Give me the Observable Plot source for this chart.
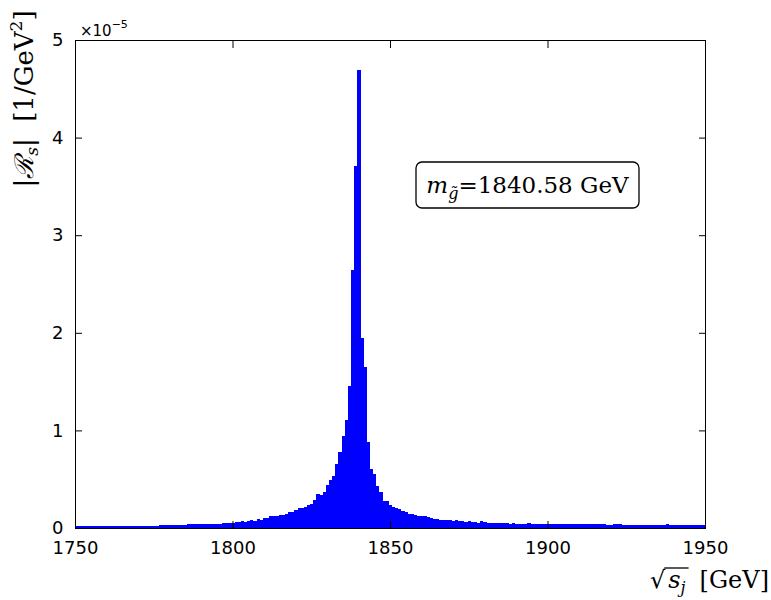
<!DOCTYPE html>
<html>
<head>
<meta charset="utf-8">
<script src="https://cdn.jsdelivr.net/npm/d3@7"></script>
<script src="https://cdn.jsdelivr.net/npm/@observablehq/plot@0.6"></script>
<style>
  body { margin: 0; background: #fff; }
  #chart { position: relative; width: 771px; height: 600px; }
</style>
</head>
<body>
<div id="chart"></div>
<script>
// Histogram of |R_s| (in units of 1e-5 1/GeV^2) vs sqrt(s_j) [GeV], 1 GeV bins
const binWidth = 1;
const firstBinStart = 1749.65;
const values = [
  0.02, 0.02, 0.02, 0.02, 0.02, 0.02, 0.02, 0.02, 0.02, 0.02,
  0.02, 0.02, 0.02, 0.025, 0.025, 0.025, 0.025, 0.025, 0.025, 0.025,
  0.025, 0.025, 0.025, 0.025, 0.025, 0.025, 0.025, 0.032, 0.032, 0.032,
  0.032, 0.032, 0.032, 0.032, 0.032, 0.032, 0.036, 0.036, 0.036, 0.036,
  0.036, 0.044, 0.036, 0.044, 0.044, 0.044, 0.044, 0.054, 0.054, 0.054,
  0.054, 0.064, 0.064, 0.074, 0.064, 0.074, 0.085, 0.074, 0.095, 0.085,
  0.105, 0.105, 0.125, 0.125, 0.125, 0.136, 0.136, 0.146, 0.16, 0.16,
  0.18, 0.21, 0.20, 0.22, 0.24, 0.25, 0.29, 0.35, 0.34, 0.37,
  0.44, 0.49, 0.53, 0.66, 0.78, 0.94, 1.11, 1.45, 2.64, 3.71,
  4.69, 1.95, 1.65, 0.88, 0.60, 0.55, 0.43, 0.37, 0.28, 0.28,
  0.24, 0.22, 0.21, 0.19, 0.17, 0.16, 0.146, 0.146, 0.13, 0.125,
  0.125, 0.125, 0.115, 0.105, 0.095, 0.095, 0.085, 0.085, 0.085, 0.085,
  0.075, 0.085, 0.075, 0.075, 0.064, 0.075, 0.064, 0.064, 0.054, 0.075,
  0.064, 0.054, 0.054, 0.054, 0.054, 0.054, 0.054, 0.054, 0.044, 0.054,
  0.044, 0.044, 0.044, 0.044, 0.054, 0.044, 0.044, 0.044, 0.044, 0.044,
  0.036, 0.036, 0.044, 0.044, 0.044, 0.036, 0.036, 0.036, 0.036, 0.036,
  0.036, 0.036, 0.036, 0.036, 0.036, 0.036, 0.036, 0.036, 0.036, 0.03,
  0.03, 0.036, 0.036, 0.036, 0.03, 0.03, 0.03, 0.03, 0.03, 0.03,
  0.03, 0.027, 0.027, 0.027, 0.027, 0.027, 0.027, 0.027, 0.036, 0.027,
  0.027, 0.027, 0.027, 0.027, 0.027, 0.027, 0.027, 0.027, 0.027, 0.027,
  0.027
];
const xTicks = [1750, 1800, 1850, 1900, 1950];
const yTicks = [0, 1, 2, 3, 4, 5];
const xDomain = [1750, 1950];
const yDomain = [0, 5];
const massText = "=1840.58 GeV";

const bins = values.map((v, i) => ({
  x1: firstBinStart + i * binWidth,
  x2: firstBinStart + (i + 1) * binWidth,
  y: v
}));

const plot = Plot.plot({
  width: 771,
  height: 600,
  marginLeft: 75,
  marginRight: 66,
  marginTop: 40,
  marginBottom: 72,
  style: { fontFamily: "DejaVu Sans", fontSize: "18px", color: "black", background: "white" },
  x: { domain: xDomain },
  y: { domain: yDomain },
  marks: [
    Plot.rectY(bins, { x1: "x1", x2: "x2", y: "y", fill: "#0000ff", shapeRendering: "crispEdges", clip: true }),
    Plot.frame({ stroke: "black", strokeWidth: 1 }),
    Plot.axisX({ ticks: xTicks, tickSize: 0, tickPadding: 13, tickFormat: "d", label: null }),
    Plot.axisX({ ticks: xTicks, tickSize: -7, text: null, label: null }),
    Plot.axisX({ anchor: "top", ticks: xTicks, tickSize: -7, text: null, label: null }),
    Plot.axisY({ ticks: yTicks, tickSize: 0, tickPadding: 12, tickFormat: "d", label: null }),
    Plot.axisY({ ticks: yTicks, tickSize: -7, text: null, label: null }),
    Plot.axisY({ anchor: "right", ticks: yTicks, tickSize: -7, text: null, label: null })
  ]
});

document.getElementById("chart").appendChild(plot);
const svg = d3.select(plot);

// offset text ×10^-5
const off = svg.append("text").attr("x", 80).attr("y", 36).attr("text-anchor", "start")
  .style("font-family", "DejaVu Sans").style("font-size", "15px").attr("fill", "black");
off.append("tspan").text("×10");
off.append("tspan").attr("dy", -8).style("font-size", "11px").text("−5");

// y label
const yl = svg.append("text").attr("transform", "translate(33,99) rotate(-90)")
  .attr("text-anchor", "middle").style("font-family", "DejaVu Serif").style("font-size", "26px").attr("fill", "black");
yl.append("tspan").text("|");
yl.append("tspan").style("font-style", "italic").text("ℛ");
yl.append("tspan").attr("dy", 5).style("font-size", "17px").style("font-style", "italic").text("s");
yl.append("tspan").attr("dy", -5).text("|  [1/GeV");
yl.append("tspan").attr("dy", -11).style("font-size", "17px").text("2");
yl.append("tspan").attr("dy", 11).text("]");

// x label
const xl = svg.append("text").attr("x", 769).attr("y", 588).attr("text-anchor", "end")
  .style("font-family", "DejaVu Serif").style("font-size", "24px").attr("fill", "black");
xl.append("tspan").text("√");
xl.append("tspan").attr("dx", 3).style("font-style", "italic").text("s");
xl.append("tspan").attr("dy", 5).style("font-size", "16px").style("font-style", "italic").text("j");
xl.append("tspan").attr("dy", -5).attr("dx", 14).text("[GeV]");
// vinculum of the square root
const xlNode = xl.node();
const radBox = xlNode.getExtentOfChar(0);
const jBox = xlNode.getExtentOfChar(2);
svg.append("line")
  .attr("x1", radBox.x + radBox.width - 1).attr("x2", jBox.x + jBox.width + 3)
  .attr("y1", radBox.y + 2).attr("y2", radBox.y + 2)
  .attr("stroke", "black").attr("stroke-width", 1.3);

// annotation box
svg.append("rect").attr("x", 416).attr("y", 162).attr("width", 223).attr("height", 46)
  .attr("rx", 6).attr("fill", "white").attr("stroke", "black").attr("stroke-width", 1.3);
const bt = svg.append("text").attr("x", 527.5).attr("y", 193).attr("text-anchor", "middle")
  .style("font-family", "DejaVu Serif").style("font-size", "23px").attr("fill", "black");
bt.append("tspan").style("font-style", "italic").text("m");
bt.append("tspan").attr("dy", 6).style("font-size", "16px").style("font-style", "italic").text("g\u0303");
bt.append("tspan").attr("dy", -6).text(massText);
</script>
</body>
</html>
